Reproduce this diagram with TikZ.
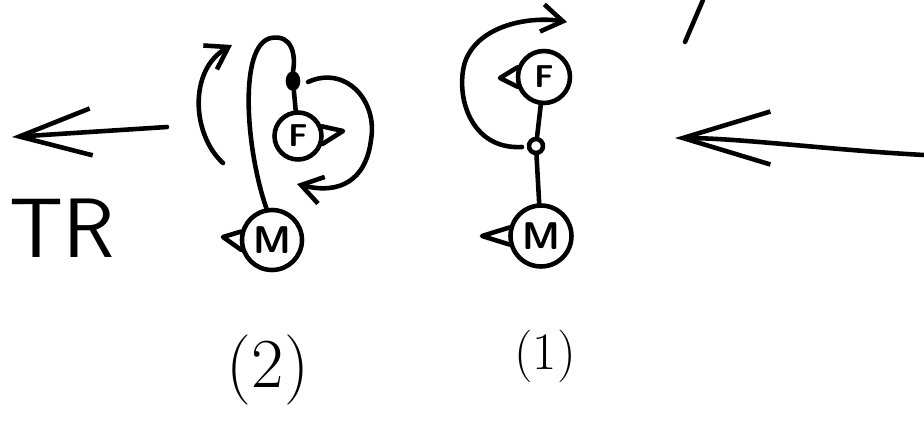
\documentclass[tikz,border=0pt]{standalone}
\usepackage{tikz}
\usetikzlibrary{positioning, arrows.meta, shapes.geometric}

\begin{document}
\begin{tikzpicture}[
    x=0.02cm, y=-0.02cm,
    line width=2.6pt, line cap=round, line join=round,
    part/.style={draw, circle, inner sep=0pt, font=\sffamily\bfseries\fontsize{18}{18}\selectfont},
    mpart/.style={part, font=\sffamily\bfseries\fontsize{22}{22}\selectfont},
    hollow/.style={draw, circle, minimum size=0.28cm, inner sep=0pt},
    knot/.style={draw, fill, ellipse, minimum width=0.2cm, minimum height=0.3cm, inner sep=0pt},
    flow/.style={-{Straight Barb[length=0.42cm, width=0.55cm]}},
    bigflow/.style={-{Straight Barb[length=1.75cm, width=1.06cm]}},
    leftflow/.style={-{Straight Barb[length=1.44cm, width=0.94cm]}},
]
\useasboundingbox (0,0) rectangle (924,423);

% (2)
\node[part, minimum size=0.94cm] (f2) at (298,136) {F};
\node[mpart, minimum size=1.2cm] (m2) at (272,240) {M};
\node[knot] (d2) at (293,81) {};
\draw (f2.22) -- (343,131) -- (f2.-18);
\draw (m2.165) -- (223,237) -- (m2.198);
\draw (d2) -- (f2);
\draw (m2.100) .. controls (246,150) and (238,45) .. (271,38) .. controls (292,34) and (296,55) .. (d2.north);

\coordinate (s2) at (308,82);
\coordinate (e2) at (297,184);
\draw[flow] (s2) .. controls (345,65) and (378,100) .. (371,140) .. controls (366,180) and (340,195) .. (e2);
\coordinate (s2l) at (223,163);
\coordinate (e2l) at (232,45);
\draw[flow] (s2l) .. controls (192,135) and (188,70) .. (e2l);

% (1)
\node[part, minimum size=1.04cm] (f1) at (544,77) {F};
\node[hollow] (d1) at (536,146) {};
\node[mpart, minimum size=1.22cm] (m1) at (541,236) {M};
\draw (f1.160) -- (500,78) -- (f1.200);
\draw (m1.165) -- (482,236) -- (m1.195);
\draw (f1) -- (d1);
\draw (d1) -- (m1);

\coordinate (s1) at (522,147);
\coordinate (e1) at (567,22);
\draw[flow] (s1) .. controls (470,150) and (455,95) .. (465,62) .. controls (478,25) and (530,16) .. (e1);

% arrows, labels
\coordinate (rt) at (924,155);
\coordinate (rh) at (675,138);
\draw[bigflow] (rt) .. controls (830,150) and (740,138) .. (rh);
\draw (703,0) -- (685,42);

\coordinate (lt) at (167,127);
\coordinate (lh) at (12,137);
\draw[leftflow] (lt) -- (lh);

\node[font=\sffamily\fontsize{48}{48}\selectfont] (tr) at (62,228) {TR};
\node[font=\fontsize{40}{40}\selectfont] (two) at (268,370) {(2)};
\node[font=\fontsize{30}{30}\selectfont] (one) at (545,356) {(1)};
\end{tikzpicture}
\end{document}
